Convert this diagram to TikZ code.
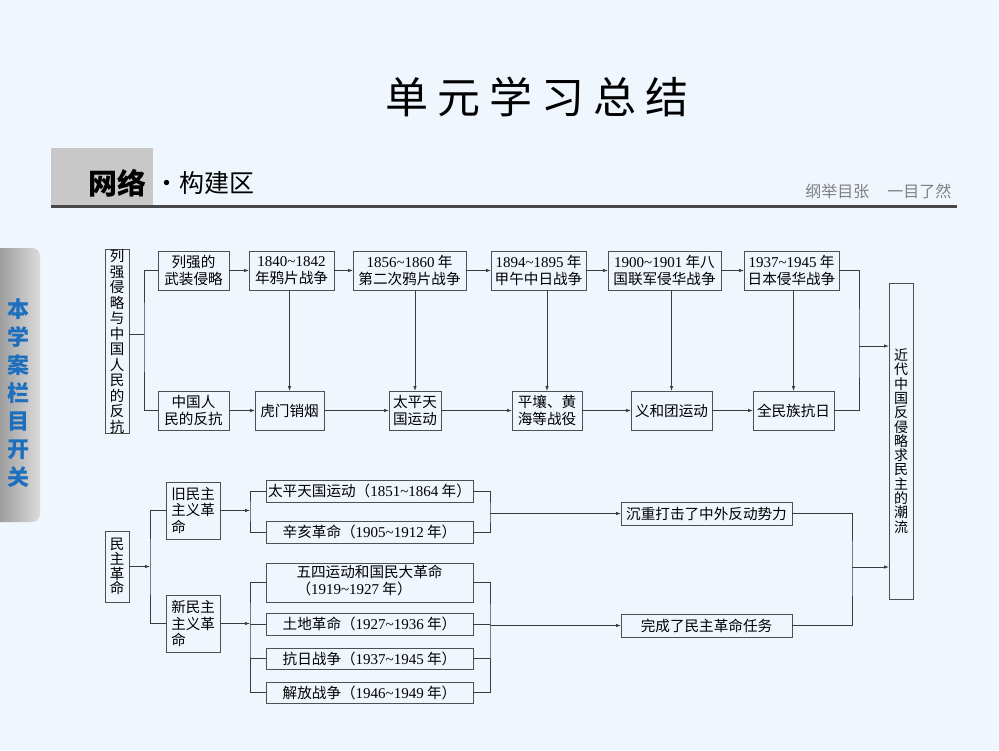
\documentclass[tikz,border=0pt]{standalone}
\usepackage{fontspec}
\setmainfont{Noto Sans CJK SC}
\newfontfamily\numf{Liberation Serif}
\usetikzlibrary{arrows.meta,calc}
\definecolor{bg}{RGB}{239,246,254}
\definecolor{boxc}{RGB}{80,80,80}
\definecolor{linec}{RGB}{60,60,60}
\definecolor{hdr}{RGB}{200,200,200}
\definecolor{sideblue}{RGB}{28,110,190}
\newcommand\nm[1]{{\numf\fontsize{15}{15}\selectfont #1}}
\newcommand\tld{{\numf\symbol{"7E}}}
\tikzset{
  box/.style={draw=boxc, line width=0.9pt, inner sep=0pt, outer sep=0pt, align=center,
    font=\fontsize{14.6}{17}\selectfont},
  vbox/.style={box, font=\fontsize{14.5}{15.5}\selectfont},
  lbox/.style={box, align=left, font=\fontsize{14.5}{16.5}\selectfont},
  ln/.style={draw=linec, line width=0.8pt},
  arr/.style={ln, -{Latex[length=5pt,width=3.5pt]}}
}
\newcommand\BX[7][box]{\node[#1,minimum width={#5-#3},minimum height={#6-#4}] (#2) at ({(#3+#5)/2},{(#4+#6)/2}) {#7};}
\begin{document}
\begin{tikzpicture}[x=1pt,y=-1pt]
\useasboundingbox (0,0) rectangle (999,750);
\fill[bg] (0,0) rectangle (999,750);
% title
\node (title) at (537,97) {\fontsize{43}{43}\selectfont 单\hspace{9pt}元\hspace{9pt}学\hspace{9pt}习\hspace{9pt}总\hspace{9pt}结};
% sidebar
\shade[left color=black!38, right color=black!14] (0,248) -- (32,248) to[out=0,in=90] (40,256) -- (40,514) to[out=-90,in=0] (32,522) -- (0,522) -- cycle;
\node[text=sideblue, align=center, font=\fontsize{22}{28}\selectfont\bfseries] (side) at (18,393) {本\\学\\案\\栏\\目\\开\\关};
% header
\fill[hdr] (51,148) rectangle (153,205);
\draw[line width=3pt, draw=black!72] (51,206.5) -- (957,206.5);
\node[font=\fontsize{29}{29}\selectfont\bfseries] (wl) at (117,183) {网络};
\node[anchor=west, font=\fontsize{25}{25}\selectfont] (gj) at (151,183) {·构建区};
\node[anchor=east, text=black!50, font=\fontsize{16}{16}\selectfont] (gy) at (955,191) {纲举目张\hspace{18pt}一目了然};
% top section
\BX[vbox]{L1}{105}{251}{129}{432}{列\\强\\侵\\略\\与\\中\\国\\人\\民\\的\\反\\抗}
\BX{a1}{158}{251}{229}{290}{列强的\\武装侵略}
\BX{a2}{249}{251}{334}{290}{\nm{1840\tld1842}\\年鸦片战争}
\BX{a3}{353}{251}{466}{290}{\nm{1856\tld1860} 年\\第二次鸦片战争}
\BX{a4}{491}{251}{586}{290}{\nm{1894\tld1895} 年\\甲午中日战争}
\BX{a5}{608}{251}{721}{290}{\nm{1900\tld1901} 年八\\国联军侵华战争}
\BX{a6}{744}{251}{839}{290}{\nm{1937\tld1945} 年\\日本侵华战争}
\BX{b1}{158}{391}{229}{430}{中国人\\民的反抗}
\BX{b2}{255}{391}{324}{430}{虎门销烟}
\BX{b3}{389}{391}{441}{430}{太平天\\国运动}
\BX{b4}{512}{391}{582}{430}{平壤、黄\\海等战役}
\BX{b5}{631}{391}{712}{430}{义和团运动}
\BX{b6}{753}{391}{834}{430}{全民族抗日}
\BX[box,font=\fontsize{14}{14.3}\selectfont]{R}{889}{283}{913}{599}{近\\代\\中\\国\\反\\侵\\略\\求\\民\\主\\的\\潮\\流}
% top connectors
\coordinate (j1) at (144,334);
\draw[ln] (j1 -| L1.east) -- (j1);
\draw[ln] (a1.west) -| (j1) |- (b1.west);
\foreach \p/\q in {a1/a2,a2/a3,a3/a4,a4/a5,a5/a6,b1/b2,b2/b3,b3/b4,b4/b5,b5/b6}
  \draw[arr] (\p) -- (\q);
\foreach \p/\q in {a2/b2,a3/b3,a4/b4,a5/b5,a6/b6}
  \draw[arr] (\p.south -| \q) -- (\q);
\coordinate (k1) at (859,346);
\draw[ln] (a6.east) -| (k1) |- (b6.east);
\draw[arr] (k1) -- (k1 -| R.west);
% bottom section
\BX[box,font=\fontsize{14.5}{14.8}\selectfont]{D}{105}{531}{129}{602}{民\\主\\革\\命}
\BX[lbox]{O}{166}{482}{220}{539}{旧民主\\主义革\\命}
\BX[lbox]{N}{166}{595}{220}{652}{新民主\\主义革\\命}
\BX{c1}{266}{480}{473}{502}{太平天国运动（\nm{1851\tld1864} 年）}
\BX{c2}{266}{521}{473}{543}{辛亥革命（\nm{1905\tld1912} 年）}
\BX{c3}{266}{563}{473}{602}{\begin{tabular}{@{}l@{}}五四运动和国民大革命\\（\nm{1919\tld1927} 年）\end{tabular}}
\BX{c4}{266}{613}{473}{635}{土地革命（\nm{1927\tld1936} 年）}
\BX{c5}{266}{648}{473}{669}{抗日战争（\nm{1937\tld1945} 年）}
\BX{c6}{266}{682}{473}{703}{解放战争（\nm{1946\tld1949} 年）}
\BX{S1}{621}{502}{792}{525}{沉重打击了中外反动势力}
\BX{S2}{621}{614}{792}{637}{完成了民主革命任务}
% bottom connectors
\coordinate (m1) at (150,566.5);
\draw[arr] (D.east) -- (m1);
\draw[ln] (O.west) -| (m1) |- (N.west);
\coordinate (m2) at (250,510.5);
\draw[arr] (O) -- (m2);
\draw[ln] (c1.west) -| (m2) |- (c2.west);
\coordinate (m3) at (490,513.5);
\draw[ln] (c1.east) -| (m3) |- (c2.east);
\draw[arr] (m3) -- (S1);
\coordinate (m4) at (250,623.5);
\draw[arr] (N) -- (m4);
\draw[ln] (c3.west) -| (m4) |- (c6.west);
\draw[ln] (c4.west) -- (c4.west -| m4);
\draw[ln] (c5.west) -- (c5.west -| m4);
\coordinate (m5) at (490,625.5);
\draw[ln] (c3.east) -| (m5) |- (c6.east);
\draw[ln] (c4.east) -- (c4.east -| m5);
\draw[ln] (c5.east) -- (c5.east -| m5);
\draw[arr] (m5) -- (S2);
\coordinate (m6) at (852,567);
\draw[ln] (S1.east) -| (m6) |- (S2.east);
\draw[arr] (m6) -- (m6 -| R.west);
\end{tikzpicture}
\end{document}
